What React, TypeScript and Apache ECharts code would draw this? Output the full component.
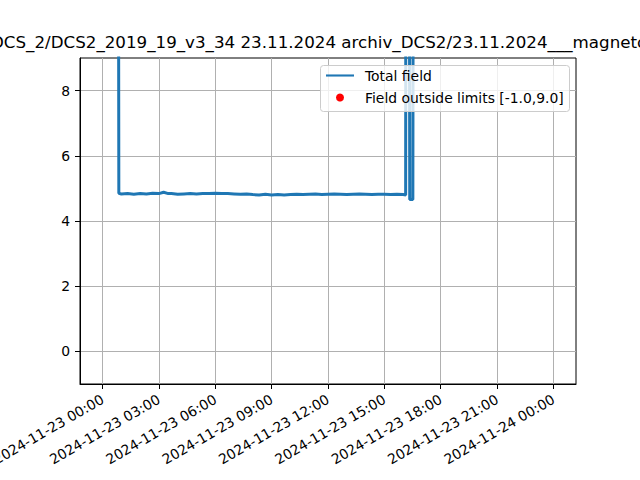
import React, { useEffect, useRef } from "react";
import * as echarts from "echarts";

const titleText =
  "DCS_2/DCS2_2019_19_v3_34 23.11.2024 archiv_DCS2/23.11.2024___magnetometer";

const fieldTimes = [
  "2024-11-23 00:00", "2024-11-23 00:50", "2024-11-23 00:52", "2024-11-23 01:00",
  "2024-11-23 01:20", "2024-11-23 01:40", "2024-11-23 02:00", "2024-11-23 02:20",
  "2024-11-23 02:40", "2024-11-23 03:00", "2024-11-23 03:15", "2024-11-23 03:30",
  "2024-11-23 03:40", "2024-11-23 04:00", "2024-11-23 04:20", "2024-11-23 04:40",
  "2024-11-23 05:00", "2024-11-23 05:20", "2024-11-23 05:40", "2024-11-23 06:00",
  "2024-11-23 06:20", "2024-11-23 06:40", "2024-11-23 07:00", "2024-11-23 07:20",
  "2024-11-23 07:40", "2024-11-23 08:00", "2024-11-23 08:20", "2024-11-23 08:40",
  "2024-11-23 09:00", "2024-11-23 09:20", "2024-11-23 09:40", "2024-11-23 10:00",
  "2024-11-23 10:20", "2024-11-23 10:40", "2024-11-23 11:00", "2024-11-23 11:20",
  "2024-11-23 11:40", "2024-11-23 12:00", "2024-11-23 12:20", "2024-11-23 12:40",
  "2024-11-23 13:00", "2024-11-23 13:20", "2024-11-23 13:40", "2024-11-23 14:00",
  "2024-11-23 14:20", "2024-11-23 14:40", "2024-11-23 15:00", "2024-11-23 15:20",
  "2024-11-23 15:40", "2024-11-23 16:00", "2024-11-23 16:08", "2024-11-23 16:09",
  "2024-11-23 16:19", "2024-11-23 16:21", "2024-11-23 16:31", "2024-11-23 16:33",
  "2024-11-24 00:00",
];

const fieldValues = [
  20.0, 20.0, 4.85, 4.83,
  4.84, 4.82, 4.84, 4.83,
  4.85, 4.84, 4.88, 4.84,
  4.84, 4.82, 4.83, 4.84,
  4.83, 4.84, 4.84, 4.85,
  4.84, 4.84, 4.83, 4.82,
  4.83, 4.81, 4.80, 4.82,
  4.80, 4.81, 4.80, 4.81,
  4.82, 4.81, 4.82, 4.83,
  4.81, 4.82, 4.83, 4.82,
  4.81, 4.82, 4.83, 4.82,
  4.81, 4.82, 4.82, 4.81,
  4.82, 4.81, 4.80, 20.0,
  20.0, 4.66, 4.66, 20.0,
  20.0,
];

const tickTimes = [
  "2024-11-23 00:00", "2024-11-23 03:00", "2024-11-23 06:00", "2024-11-23 09:00",
  "2024-11-23 12:00", "2024-11-23 15:00", "2024-11-23 18:00", "2024-11-23 21:00",
  "2024-11-24 00:00",
];
const yTicks = [0, 2, 4, 6, 8];
const limits = [-1.0, 9.0];
const seriesNames = ["Total field", "Field outside limits [-1.0,9.0]"];

function toMs(s: string): number {
  const [d, t] = s.split(" ");
  const [Y, M, D] = d.split("-").map(Number);
  const [h, m] = t.split(":").map(Number);
  return Date.UTC(Y, M - 1, D, h, m);
}
const pad = (n: number) => String(n).padStart(2, "0");
function fmt(v: number): string {
  const d = new Date(v);
  return `${d.getUTCFullYear()}-${pad(d.getUTCMonth() + 1)}-${pad(d.getUTCDate())} ${pad(
    d.getUTCHours()
  )}:${pad(d.getUTCMinutes())}`;
}

const FONT = '"DejaVu Sans", sans-serif';

export default function App() {
  const ref = useRef<HTMLDivElement>(null);
  useEffect(() => {
    if (!ref.current) return;
    const chart = echarts.init(ref.current, undefined, { renderer: "svg" });
    const xs = fieldTimes.map(toMs);
    const lineData = xs.map((x, i) => [x, fieldValues[i]]);
    const outData = lineData.filter((p) => p[1] < limits[0] || p[1] > limits[1]);
    const ticks = tickTimes.map(toMs);
    const margin = 1.2 * 3600e3;
    const xMin = ticks[0] - margin;
    const xMax = ticks[ticks.length - 1] + margin;

    chart.setOption({
      animation: false,
      backgroundColor: "#fff",
      grid: {
        left: 80,
        right: 64,
        top: 58,
        bottom: 96,
        show: true,
        containLabel: false,
        outerBoundsMode: "none",
        borderColor: "#000",
        borderWidth: 1,
        backgroundColor: "transparent",
      },
      xAxis: {
        type: "value",
        min: xMin,
        max: xMax,
        axisLine: { show: true, onZero: false, lineStyle: { color: "#000", width: 1 } },
        axisTick: { show: true, length: 5, customValues: ticks, lineStyle: { color: "#000" } },
        axisLabel: {
          customValues: ticks,
          formatter: (v: number) => fmt(v),
          rotate: 30,
          margin: 14,
          color: "#000",
          fontFamily: FONT,
          fontSize: 13.9,
        },
        splitLine: { show: true, lineStyle: { color: "#b0b0b0", width: 1 } },
      },
      yAxis: {
        type: "value",
        min: limits[0],
        max: limits[1],
        axisLine: { show: true, onZero: false, lineStyle: { color: "#000", width: 1 } },
        axisTick: { show: true, length: 5, customValues: yTicks, lineStyle: { color: "#000" } },
        axisLabel: {
          customValues: yTicks,
          margin: 10,
          color: "#000",
          fontFamily: FONT,
          fontSize: 13.9,
        },
        splitLine: { show: true, lineStyle: { color: "#b0b0b0", width: 1 } },
      },
      series: [
        {
          name: seriesNames[0],
          type: "line",
          data: lineData,
          symbol: "none",
          clip: true,
          lineStyle: { color: "#1f77b4", width: 3 },
          z: 3,
        },
        {
          name: seriesNames[1],
          type: "scatter",
          data: outData,
          clip: true,
          symbolSize: 8,
          itemStyle: { color: "red" },
          z: 4,
        },
      ],
      graphic: [
        {
          type: "text",
          x: -9,
          y: 42,
          z: 100,
          style: {
            text: titleText,
            font: `16.7px ${FONT}`,
            fill: "#000",
            align: "left",
            verticalAlign: "middle",
          },
        },
        {
          type: "rect",
          z: 100,
          shape: { x: 320.5, y: 65.5, width: 249, height: 46, r: 3 },
          style: { fill: "rgba(255,255,255,0.8)", stroke: "#cccccc", lineWidth: 1 },
        },
        {
          type: "line",
          z: 101,
          shape: { x1: 326, y1: 75.5, x2: 354, y2: 75.5 },
          style: { stroke: "#1f77b4", lineWidth: 2.1 },
        },
        {
          type: "circle",
          z: 101,
          shape: { cx: 340, cy: 97.5, r: 4 },
          style: { fill: "red" },
        },
        {
          type: "text",
          x: 365,
          y: 76,
          z: 101,
          style: {
            text: seriesNames[0],
            font: `13.9px ${FONT}`,
            fill: "#000",
            align: "left",
            verticalAlign: "middle",
          },
        },
        {
          type: "text",
          x: 365,
          y: 98,
          z: 101,
          style: {
            text: seriesNames[1],
            font: `13.9px ${FONT}`,
            fill: "#000",
            align: "left",
            verticalAlign: "middle",
          },
        },
      ],
    });
    return () => chart.dispose();
  }, []);
  return <div ref={ref} style={{ width: 640, height: 480, position: "absolute", left: 0, top: 0 }} />;
}
